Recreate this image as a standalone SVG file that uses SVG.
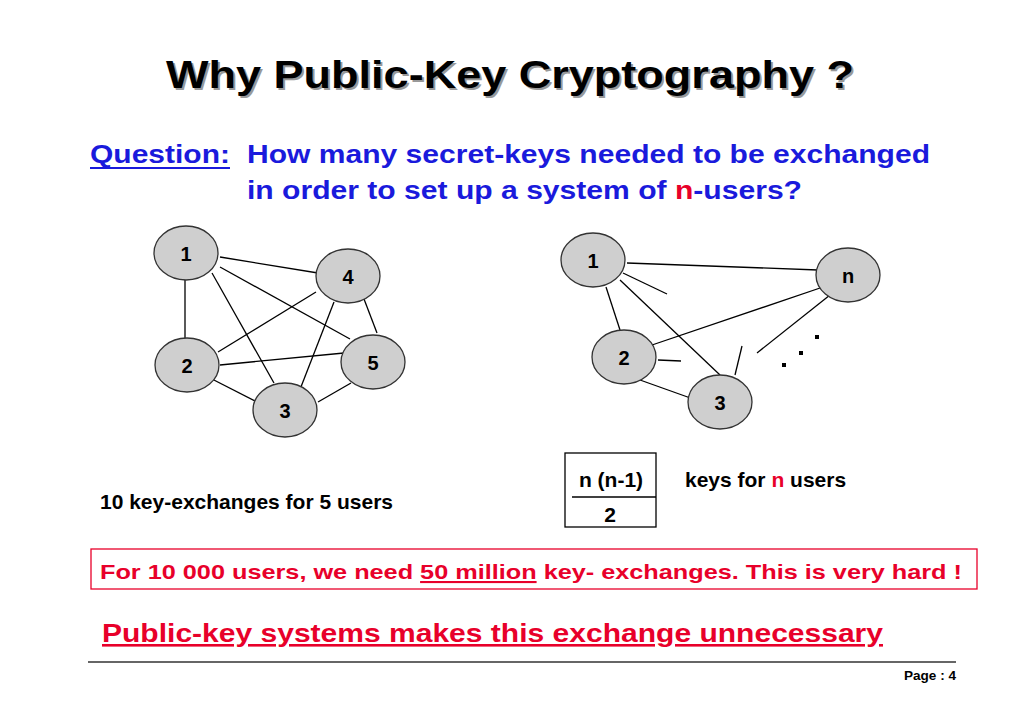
<svg xmlns="http://www.w3.org/2000/svg" width="1024" height="711" viewBox="0 0 1024 711">
<style>
text{font-family:"Liberation Sans",Arial,sans-serif;font-weight:bold}
.nd ellipse{fill:#cfcfcf;stroke:#333;stroke-width:1.3}
.nd text{font-size:20px;text-anchor:middle;fill:#000}
#edges line{stroke:#000;stroke-width:1.3}
.blue{fill:#1a1adc}
.red{fill:#e8002a}
</style>
<rect width="1024" height="711" fill="#fff"/>
<text x="168" y="90" font-size="38" fill="#999" textLength="688" lengthAdjust="spacingAndGlyphs">Why Public-Key Cryptography ?</text>
<text x="166" y="88" font-size="38" fill="#000" textLength="688" lengthAdjust="spacingAndGlyphs">Why Public-Key Cryptography ?</text>
<text x="90" y="163" font-size="26" class="blue" textLength="140" lengthAdjust="spacingAndGlyphs">Question:</text>
<line x1="90" y1="168" x2="230" y2="168" stroke="#1a1adc" stroke-width="2"/>
<text x="247" y="163" font-size="26" class="blue" textLength="683" lengthAdjust="spacingAndGlyphs">How many secret-keys needed to be exchanged</text>
<text x="247" y="199" font-size="26" class="blue" textLength="555" lengthAdjust="spacingAndGlyphs">in order to set up a system of <tspan class="red">n</tspan>-users?</text>
<g id="edges">
<line x1="220" y1="257" x2="318" y2="273"/>
<line x1="185" y1="278" x2="185" y2="338"/>
<line x1="212" y1="273" x2="274" y2="383"/>
<line x1="220" y1="267" x2="350" y2="339"/>
<line x1="316" y1="292" x2="218" y2="352"/>
<line x1="334" y1="302" x2="299" y2="392"/>
<line x1="364" y1="299" x2="377" y2="333"/>
<line x1="220" y1="365" x2="344" y2="353"/>
<line x1="208" y1="377" x2="257" y2="402"/>
<line x1="351" y1="383" x2="318" y2="402"/>
<line x1="627" y1="263" x2="818" y2="270"/>
<line x1="623" y1="273" x2="667" y2="294"/>
<line x1="606" y1="287" x2="620" y2="330"/>
<line x1="620" y1="280" x2="720" y2="375"/>
<line x1="823" y1="287" x2="652" y2="345"/>
<line x1="830" y1="295" x2="757" y2="353"/>
<line x1="658" y1="360" x2="681" y2="361"/>
<line x1="640" y1="380" x2="696" y2="400"/>
<line x1="735" y1="375" x2="742" y2="346"/>
</g>
<g id="dots" fill="#000"><rect x="815" y="335" width="4" height="4"/><rect x="799" y="351" width="4" height="4"/><rect x="782" y="363" width="4" height="4"/></g>
<g id="n1" class="nd"><ellipse cx="186" cy="253" rx="32" ry="27"/><text x="186" y="261">1</text></g>
<g id="n4" class="nd"><ellipse cx="348" cy="276" rx="32" ry="27"/><text x="348" y="284">4</text></g>
<g id="n2" class="nd"><ellipse cx="187" cy="365" rx="32" ry="27"/><text x="187" y="373">2</text></g>
<g id="n5" class="nd"><ellipse cx="373" cy="362" rx="32" ry="27"/><text x="373" y="370">5</text></g>
<g id="n3" class="nd"><ellipse cx="285" cy="410" rx="32" ry="27"/><text x="285" y="418">3</text></g>
<g id="r1" class="nd"><ellipse cx="593" cy="260" rx="32" ry="27"/><text x="593" y="268">1</text></g>
<g id="rn" class="nd"><ellipse cx="848" cy="275" rx="32" ry="27"/><text x="848" y="283">n</text></g>
<g id="r2" class="nd"><ellipse cx="624" cy="357" rx="32" ry="27"/><text x="624" y="365">2</text></g>
<g id="r3" class="nd"><ellipse cx="720" cy="402" rx="32" ry="27"/><text x="720" y="410">3</text></g>
<g id="frac">
<rect x="565" y="453" width="91" height="74" fill="none" stroke="#000" stroke-width="1.3"/>
<line x1="572" y1="497" x2="656" y2="497" stroke="#000" stroke-width="1.3"/>
<text x="611" y="487" font-size="21" text-anchor="middle">n (n-1)</text>
<text x="610" y="522" font-size="21" text-anchor="middle">2</text>
</g>
<text x="685" y="487" font-size="21">keys for <tspan class="red">n</tspan> users</text>
<text x="100" y="509" font-size="21">10 key-exchanges for 5 users</text>
<rect x="91" y="549" width="886" height="40" fill="none" stroke="#e8002a" stroke-width="1.3"/>
<text x="100" y="579" font-size="21" class="red" textLength="862" lengthAdjust="spacingAndGlyphs">For 10 000 users, we need  <tspan text-decoration="underline">50 million</tspan> key- exchanges. This is very hard !</text>
<text x="102" y="642" font-size="26" class="red" textLength="781" lengthAdjust="spacingAndGlyphs" text-decoration="underline">Public-key systems makes this exchange unnecessary</text>
<line x1="88" y1="662" x2="956" y2="662" stroke="#333" stroke-width="1.5"/>
<text x="904" y="680" font-size="13" textLength="52" lengthAdjust="spacingAndGlyphs">Page :  4</text>
</svg>
